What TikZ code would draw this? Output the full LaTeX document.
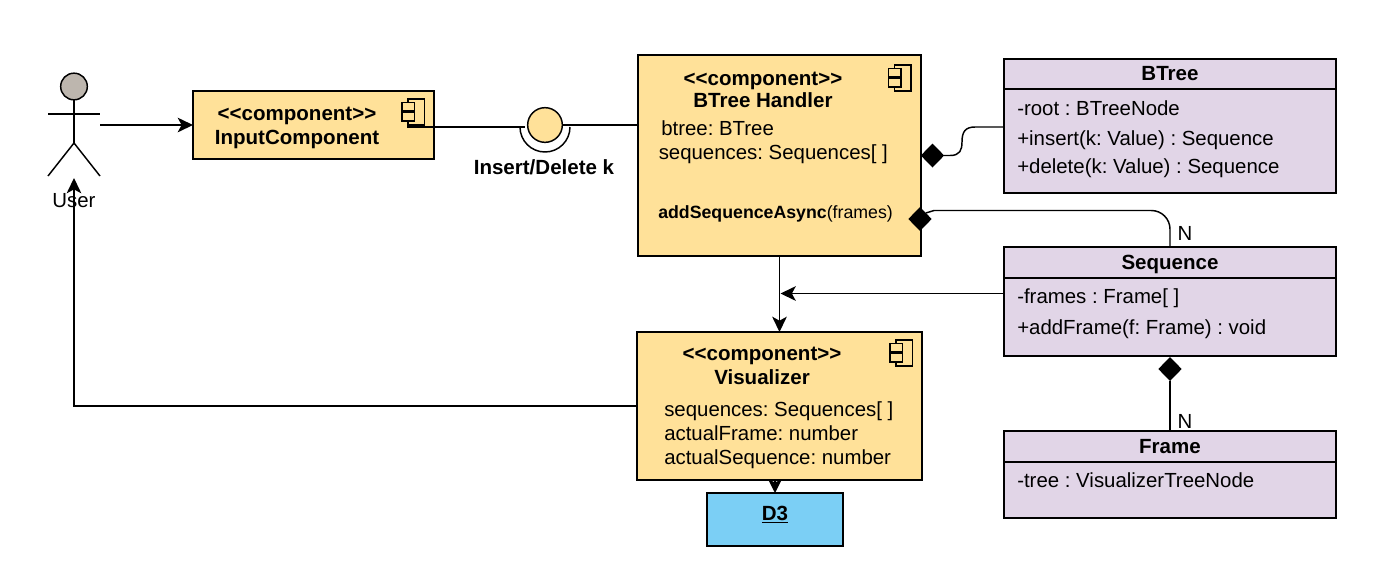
\documentclass[tikz,border=0pt]{standalone}
\usepackage{fontspec}
\setmainfont{Liberation Sans}
\usetikzlibrary{arrows.meta,shapes.geometric}
\definecolor{compyellow}{HTML}{FFE199}
\definecolor{classlilac}{HTML}{E1D5E7}
\definecolor{libblue}{HTML}{7BCFF5}
\definecolor{headgrey}{HTML}{BDB6AE}
\frenchspacing
\tikzset{
  x=0.75pt,y=-0.75pt,
  flowtip/.tip={Stealth[length=11.5pt,width=11pt,inset=3pt]},
  boxsize/.style 2 args={minimum width=#1*0.75pt,minimum height=#2*0.75pt,inner sep=0pt,outer sep=0pt},
  compbox/.style={draw=black,line width=1.2pt,fill=compyellow,anchor=north west},
  classbox/.style={draw=black,line width=1.2pt,fill=classlilac,anchor=north west},
  libbox/.style={draw=black,line width=1.1pt,fill=libblue,anchor=north west},
  link/.style={line width=1.1pt,draw=black},
  flow/.style={link,-flowtip},
  whole/.style={diamond,fill=black,inner sep=0pt,outer sep=0pt,minimum width=17.5pt,minimum height=18pt},
  boldlabel/.style={font=\fontsize{15.4pt}{18pt}\selectfont\bfseries\frenchspacing,anchor=mid,inner sep=0pt,yshift=-3pt},
  member/.style={font=\fontsize{15.3pt}{18pt}\selectfont\frenchspacing,anchor=mid west,inner sep=0pt,yshift=-3pt},
  plainlabel/.style={font=\fontsize{15.3pt}{18pt}\selectfont,anchor=mid,inner sep=0pt,yshift=-3pt},
  compicon/.pic={
    \draw[line width=0.9pt] (6,0) rectangle (22.5,26);
    \draw[line width=0.9pt,fill=compyellow] (0,3.5) rectangle (12.5,12);
    \draw[line width=0.9pt,fill=compyellow] (0,13) rectangle (12.5,22);
  }
}
\begin{document}
\begin{tikzpicture}
\useasboundingbox (0,0) rectangle (1400,583);
% boxes
\node[compbox,boxsize={241}{68},line width=1.5pt] (input) at (193,91) {};
\node[compbox,boxsize={283}{201},line width=1pt] (handler) at (638,55) {};
\node[compbox,boxsize={285}{148}] (vis) at (637,332) {};
\node[libbox,boxsize={136}{53}] (d3) at (707,493) {};
\node[classbox,boxsize={332}{134}] (btree) at (1004,59) {};
\node[classbox,boxsize={332}{109}] (sequence) at (1004,247) {};
\node[classbox,boxsize={332}{87}] (frame) at (1004,431) {};
\draw[line width=1.3pt] (btree.west |- 0,89) -- (btree.east |- 0,89);
\draw[line width=1.3pt] (sequence.west |- 0,278) -- (sequence.east |- 0,278);
\draw[line width=1.3pt] (frame.west |- 0,462) -- (frame.east |- 0,462);
\pic at (402,99) {compicon};
\pic at (888.5,65) {compicon};
\pic at (890,340) {compicon};
% user
\node[circle,draw=black,line width=1.1pt,fill=headgrey,minimum size=20pt,inner sep=0pt,outer sep=0pt] (userhead) at (74,86.5) {};
\coordinate (userhip) at (74,143);
\coordinate (userhand) at (100,125);
\coordinate (userfoot) at (74,178);
\draw[link] (userhead.south) -- (userhip);
\draw[link] (48,114) -- (100,114);
\draw[link] (48,176) -- (userhip) -- (100,176);
\node[plainlabel] (usertext) at (74,200) {User};
% interface
\node[circle,draw=black,line width=1.1pt,fill=compyellow,minimum size=26pt,inner sep=0pt,outer sep=0pt] (lolli) at (545,125) {};
\draw[link] (520,127) arc (180:0:25 and 25);
\coordinate (inputtap) at (408,122);
\draw[link] (inputtap) -- (408,127) -- (525,127);
\draw[link] (lolli.east) -- (handler.west |- lolli);
\node[boldlabel] (lollitext) at (544,167) {Insert/Delete k};
% connectors
\draw[flow] (userhand) -- (input.west);
\draw[flow] (vis.west) -| (userfoot);
\draw[flow] (handler.south) -- (vis.north);
\coordinate (seqjoin) at (780.5,293.5);
\draw[flow] (sequence.west |- seqjoin) -- (seqjoin);
\draw[link,-{Stealth[length=10pt,width=10pt,inset=2pt]}] (d3.north |- vis.south) -- (d3.north);
\node[whole] (btreewhole) at (932.5,155.5) {};
\node[whole] (seqwhole) at (920,219) {};
\node[whole] (framewhole) at (1170,369) {};
\draw[link] (btreewhole.east) -- (950,155.5) .. controls (960,155.5) and (962,150) .. (962,142) .. controls (962,132) and (965,127) .. (975,127) -- (btree.west |- 0,127);
\draw[link] (seqwhole.north east) -- (934,210.5) [rounded corners=14pt] -- (1170,210.5) -- (sequence.north);
\draw[link] (framewhole.south) -- (frame.north);
\node[plainlabel] (seqn) at (1185,233) {N};
\node[plainlabel] (framen) at (1185,421) {N};
% texts
\node[boldlabel] (inputstereo) at (297,113) {<{}<component>{}>};
\node[boldlabel] (inputname) at (297,137) {InputComponent};
\node[boldlabel] (handlerstereo) at (763,78) {<{}<component>{}>};
\node[boldlabel] (handlername) at (763,100) {BTree Handler};
\node[member] (handlertree) at (661,128) {btree: BTree};
\node[member] (handlerseq) at (658.5,152) {sequences: Sequences[ ]};
\node[member,font=\fontsize{13.3pt}{16pt}\selectfont] (handleradd) at (658,211) {\textbf{addSequenceAsync}(frames)};
\node[boldlabel] (visstereo) at (762,353) {<{}<component>{}>};
\node[boldlabel] (visname) at (762,377) {Visualizer};
\node[member] (visseq) at (664,409) {sequences: Sequences[ ]};
\node[member] (visframe) at (664,433) {actualFrame: number};
\node[member] (visactual) at (664,457) {actualSequence: number};
\node[boldlabel] (d3name) at (775,513) {\underline{D3}};
\node[boldlabel] (btreename) at (1170,73) {BTree};
\node[member] (btreeroot) at (1017,108) {-root : BTreeNode};
\node[member] (btreeins) at (1017,138) {+insert(k: Value) : Sequence};
\node[member] (btreedel) at (1017,166) {+delete(k: Value) : Sequence};
\node[boldlabel] (seqname) at (1170,262) {Sequence};
\node[member] (seqframes) at (1017,296) {-frames : Frame[ ]};
\node[member] (seqadd) at (1017,327) {+addFrame(f: Frame) : void};
\node[boldlabel] (framename) at (1170,446) {Frame};
\node[member] (frametree) at (1017,480) {-tree : VisualizerTreeNode};
\end{tikzpicture}
\end{document}
